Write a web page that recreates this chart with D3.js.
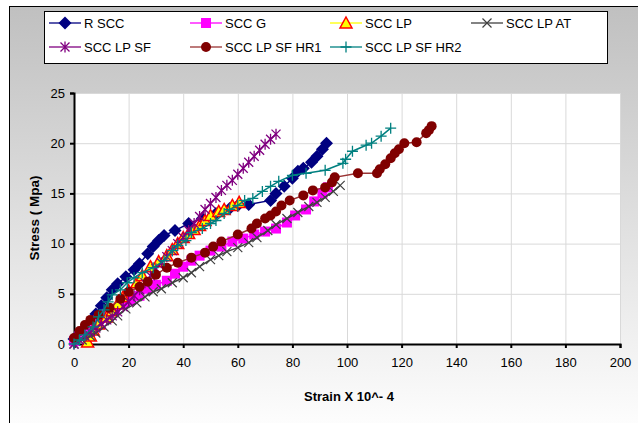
<!DOCTYPE html>
<html>
<head>
<meta charset="utf-8">
<script src="https://cdn.jsdelivr.net/npm/d3@7"></script>
<style>
  body { margin: 0; background: #fff; }
  svg text { font-family: "Liberation Sans", Arial, sans-serif; }
</style>
</head>
<body>
<div id="chart"></div>
<script>
// series names and values [strain, stress]
var seriesNames = ["R SCC", "SCC G", "SCC LP", "SCC LP AT", "SCC LP SF", "SCC LP SF HR1", "SCC LP SF HR2"];

var rScc = [[0,0.5],[3,1.2],[6,2],[8,3],[10,3.8],[12,4.6],[14,5.4],[16,6],[19,6.7],[22,7.4],[24,8],[27,9],[29,9.7],[31,10.3],[33,10.8],[37,11.3],[42,12],[47,12.5],[52,13],[57,13.5],[60,13.8],[64,13.9],[72,14.3],[74,15],[77,15.7],[80,16.5],[82,17.2],[84,17.5],[87,18.1],[89,18.7],[91,19.4],[92.5,20]];
var sccG = [[0,0.3],[2,0.8],[4,1.3],[6,1.8],[9,2.4],[12,3],[15,3.5],[18,4],[21,4.4],[24,4.8],[27,5.5],[30,5.9],[34,6.3],[37,7.0],[40,7.7],[43,8.3],[46,8.8],[50,9.3],[54,9.7],[58,10.2],[62,10.5],[66,10.9],[70,11.2],[74,11.5],[78,12.1],[81,12.8],[85,13.4],[88,14.2],[91,15],[93,15.6]];
var sccLp = [[5,0.2],[6,0.8],[7,1.4],[9,2],[12,2.7],[14,3.3],[16,4],[18,4.7],[20,5.3],[23,6.1],[25,6.8],[28,7.7],[31,8.2],[34,8.8],[36,9.4],[38,10],[40,10.6],[42,11],[44,11.4],[46,11.8],[48,12.3],[50,12.8],[53,13.2],[55,13.4],[58,13.8],[60.5,14.1]];
var sccLpAt = [[0,0],[3,0.4],[6,0.8],[8,1.1],[11,1.7],[14,2.3],[16,2.8],[19,3.5],[23,4.1],[26,4.7],[29,5.2],[32,5.5],[36,6.1],[40,6.6],[43,7.1],[46,7.7],[50,8.4],[53,8.8],[56,9.2],[60,9.6],[64,10.1],[67,10.6],[71,11.3],[74,11.9],[78,12.5],[82,13.1],[86,13.7],[89,14.1],[92,14.6],[95,15.2],[97.5,15.8]];
var sccLpSf = [[0,0],[2,0.4],[4,0.8],[6,1.2],[8,1.6],[10,2],[12,2.4],[14,2.8],[16,3.2],[18,3.7],[20,4.2],[22,4.8],[24,5.4],[26,6.1],[28,6.8],[30,7.5],[32,8.1],[34,8.7],[36,9.3],[38,10],[40,10.6],[42,11.3],[44,12],[46,12.7],[48,13.4],[50,14],[52,14.6],[54,15.3],[56,15.8],[58,16.3],[60,16.9],[62,17.5],[64,18.1],[66,18.7],[68,19.3],[70,19.9],[72,20.4],[74,20.9]];
var sccLpSfHr1 = [[0,0.6],[2,1.3],[4,1.9],[6,2.4],[9,2.9],[13,3.6],[17,4.5],[20,5.2],[24,5.7],[27,6.2],[30,6.9],[34,7.6],[38,8.1],[43,8.6],[48,9.1],[51,9.7],[54,10.2],[60,10.9],[65,11.5],[67,12],[70,12.5],[72,12.8],[74,13.2],[76,13.8],[79,14.3],[84,14.8],[87.5,15.3],[92,15.6],[94.5,16.1],[95.5,16.6],[104,17],[111,17],[112,17.4],[114,17.9],[116,18.5],[117.5,19],[119,19.4],[121,20],[125.5,20.1],[129,21],[130,21.3],[131,21.7]];
var sccLpSfHr2 = [[0,0],[2,0.4],[4,0.9],[7,1.7],[9,2.7],[11,3.4],[12.5,4.2],[14,4.9],[17,5.4],[19.5,6.1],[22,6.6],[25,7.1],[29,7.6],[33,8.3],[36,9.3],[38,9.8],[41,10.3],[43,11.1],[47,11.5],[50,12],[52,12.3],[55,13],[57,13.4],[60,13.8],[62.5,14.3],[65.5,14.5],[69,15.2],[72,15.7],[75,16.2],[80,16.8],[85,17],[92,17.3],[98.5,18],[99.5,18.4],[102,19.2],[107,19.8],[109,20],[112.5,20.7],[116,21.5]];

var xTicks = [0, 20, 40, 60, 80, 100, 120, 140, 160, 180, 200];
var yTicks = [0, 5, 10, 15, 20, 25];

var allData = [rScc, sccG, sccLp, sccLpAt, sccLpSf, sccLpSfHr1, sccLpSfHr2];

// marker styles per series
var styles = [
  {line: "#000080", marker: "diamond", fill: "#000080", stroke: "none"},
  {line: "#ff00ff", marker: "square", fill: "#ff00ff", stroke: "none"},
  {line: "#ffff00", marker: "triangle", fill: "#ffff00", stroke: "#ff0000"},
  {line: "#404040", marker: "x", fill: "none", stroke: "#404040"},
  {line: "#800080", marker: "star", fill: "none", stroke: "#800080"},
  {line: "#993333", marker: "circle", fill: "#800000", stroke: "none"},
  {line: "#008080", marker: "plus", fill: "none", stroke: "#008080"}
];

var W = 638, H = 423;
var margin = {top: 93, right: 18, bottom: 79, left: 74};

var svg = d3.select("#chart").append("svg")
  .attr("width", W)
  .attr("height", H);

// background gradient
var grad = svg.append("defs").append("linearGradient")
  .attr("id", "bg")
  .attr("x1", 0).attr("y1", 0).attr("x2", 0).attr("y2", 1);
grad.append("stop").attr("offset", "0%").attr("stop-color", "#c0c0c0");
grad.append("stop").attr("offset", "100%").attr("stop-color", "#ffffff");

svg.append("rect")
  .attr("x", 9.5).attr("y", 6.5)
  .attr("width", W + 10).attr("height", H + 10)
  .attr("fill", "url(#bg)")
  .attr("stroke", "#000")
  .attr("stroke-width", 1);

var x = d3.scaleLinear()
  .domain([0, 200])
  .range([margin.left, W - margin.right]);

var y = d3.scaleLinear()
  .domain([0, 25])
  .range([H - margin.bottom, margin.top]);

// plot area
svg.append("rect")
  .attr("x", x(0)).attr("y", y(25))
  .attr("width", x(200) - x(0)).attr("height", y(0) - y(25))
  .attr("fill", "#fff");

// gridlines
svg.append("g")
  .selectAll("line.v")
  .data(xTicks.slice(1))
  .enter().append("line")
    .attr("x1", d => x(d) + 0.5).attr("x2", d => x(d) + 0.5)
    .attr("y1", y(0)).attr("y2", y(25))
    .attr("stroke", "#d9d9d9");

svg.append("g")
  .selectAll("line.h")
  .data(yTicks.slice(1))
  .enter().append("line")
    .attr("x1", x(0)).attr("x2", x(200))
    .attr("y1", d => y(d) + 0.5).attr("y2", d => y(d) + 0.5)
    .attr("stroke", "#d9d9d9");

// axes
var xAxis = svg.append("g")
  .attr("transform", `translate(0,${y(0)})`)
  .call(d3.axisBottom(x).tickValues(xTicks).tickSize(4).tickPadding(10));

var yAxis = svg.append("g")
  .attr("transform", `translate(${x(0)},0)`)
  .call(d3.axisLeft(y).tickValues(yTicks).tickSize(4).tickPadding(5));

[xAxis, yAxis].forEach(function(a) {
  a.select(".domain").attr("stroke", "#000").attr("stroke-width", 2);
  a.selectAll(".tick line").attr("stroke", "#000").attr("stroke-width", 2);
  a.selectAll(".tick text")
    .attr("font-family", "Liberation Sans, Arial, sans-serif")
    .attr("font-size", 13)
    .attr("fill", "#000");
});

// axis titles
svg.append("text")
  .attr("x", 349)
  .attr("y", 401)
  .attr("text-anchor", "middle")
  .attr("font-size", 13)
  .attr("font-weight", "bold")
  .text("Strain X 10^- 4");

svg.append("text")
  .attr("transform", "translate(39,218) rotate(-90)")
  .attr("text-anchor", "middle")
  .attr("font-size", 13.5)
  .attr("font-weight", "bold")
  .text("Stress ( Mpa)");

// marker drawing
function drawMarker(g, st) {
  switch (st.marker) {
    case "diamond":
      g.append("path").attr("d", "M0,-6.5L6.5,0L0,6.5L-6.5,0Z").attr("fill", st.fill);
      break;
    case "square":
      g.append("rect").attr("x", -5).attr("y", -5).attr("width", 10).attr("height", 10).attr("fill", st.fill);
      break;
    case "triangle":
      g.append("path").attr("d", "M0,-6L6,5L-6,5Z").attr("fill", st.fill)
        .attr("stroke", st.stroke).attr("stroke-width", 1.5);
      break;
    case "x":
      g.append("path").attr("d", "M-4.5,-4.5L4.5,4.5M-4.5,4.5L4.5,-4.5").attr("stroke", st.stroke).attr("stroke-width", 1.2);
      break;
    case "star":
      g.append("path").attr("d", "M-4.5,-4.5L4.5,4.5M-4.5,4.5L4.5,-4.5M0,-5.5L0,5.5").attr("stroke", st.stroke).attr("stroke-width", 1.3);
      break;
    case "circle":
      g.append("circle").attr("r", 5).attr("fill", st.fill);
      break;
    case "plus":
      g.append("path").attr("d", "M-5.5,0L5.5,0M0,-5.5L0,5.5").attr("stroke", st.stroke).attr("stroke-width", 1.3);
      break;
  }
}

var line = d3.line()
  .x(d => x(d[0]))
  .y(d => y(d[1]));

var plot = svg.append("g");

allData.forEach(function(data, i) {
  var st = styles[i];
  var g = plot.append("g");
  g.append("path")
    .datum(data)
    .attr("d", line)
    .attr("fill", "none")
    .attr("stroke", st.line)
    .attr("stroke-width", 1.5);
  g.selectAll("g.pt")
    .data(data)
    .enter().append("g")
      .attr("transform", d => `translate(${x(d[0])},${y(d[1])})`)
      .each(function() { drawMarker(d3.select(this), st); });
});

// legend
var legend = svg.append("g");
legend.append("rect")
  .attr("x", 44.5).attr("y", 11.5)
  .attr("width", 563).attr("height", 52)
  .attr("fill", "#fff")
  .attr("stroke", "#000")
  .attr("stroke-width", 1);

var legendPos = [[49, 23], [190, 23], [330, 23], [471, 23], [49, 47], [190, 47], [330, 47]];

seriesNames.forEach(function(name, i) {
  var st = styles[i];
  var px = legendPos[i][0], py = legendPos[i][1];
  var item = legend.append("g");
  item.append("line")
    .attr("x1", px).attr("x2", px + 32)
    .attr("y1", py).attr("y2", py)
    .attr("stroke", st.line)
    .attr("stroke-width", 1.3);
  var m = item.append("g").attr("transform", `translate(${px + 16},${py})`);
  drawMarker(m, st);
  item.append("text")
    .attr("x", px + 35)
    .attr("y", py + 4.5)
    .attr("font-size", 13)
    .text(name);
});
</script>
</body>
</html>
